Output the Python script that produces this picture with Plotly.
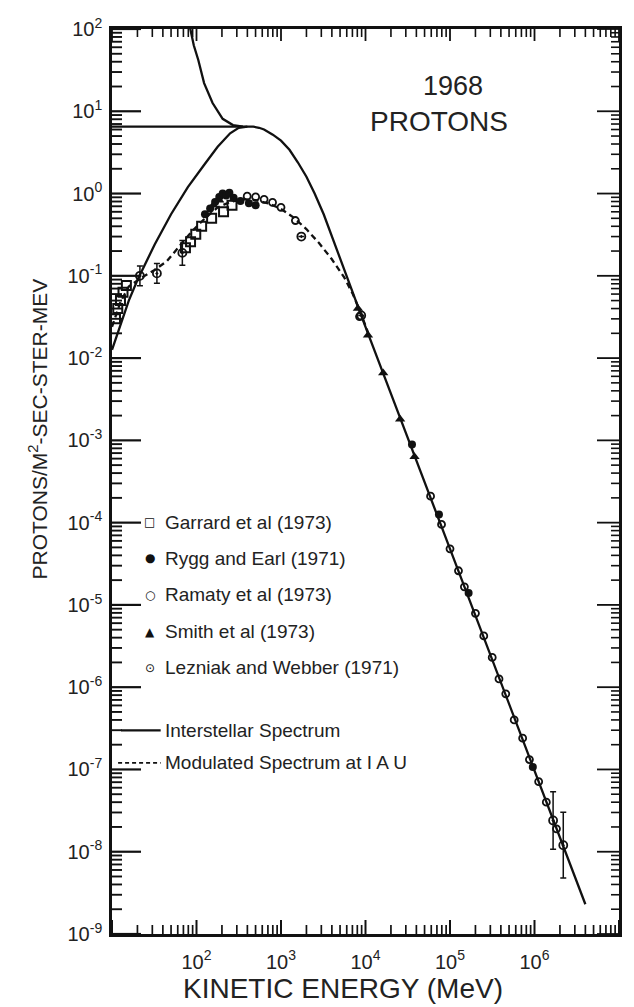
import numpy as np
import plotly.graph_objects as go

# ---------------- spectra (kinetic energy in MeV, flux in protons/m2-sec-ster-MeV) -------------
# interstellar spectrum, flat low-energy form continuing into the high-energy power law
is_main_E = [10, 200, 470, 550, 630, 800, 1000, 1260, 1580, 2000, 2500, 3200, 4000, 5000,
             6300, 7900, 1.0e4, 1.0e5, 1.0e6, 4.0e6]
is_main_J = [6.5, 6.5, 6.5, 6.3, 6.0, 5.2, 4.4, 3.4, 2.4, 1.6, 1.0, 0.56, 0.30, 0.16,
             0.083, 0.045, 0.024, 4.8e-5, 9.5e-8, 2.3e-9]
# interstellar spectrum, rising low-energy form
is_high_E = [80, 85, 93, 105, 123, 155, 178, 204, 270, 355]
is_high_J = [130, 100, 63, 42, 22, 12.6, 10.0, 8.1, 6.8, 6.5]
# interstellar spectrum, falling low-energy form
is_low_E = [10, 12.6, 15.8, 20, 32, 50, 79, 126, 178, 250, 316, 400]
is_low_J = [0.0126, 0.026, 0.05, 0.089, 0.24, 0.56, 1.2, 2.3, 3.7, 5.4, 6.3, 6.5]

# modulated spectrum at 1 AU
mod_E = [10, 12.6, 15.8, 22.4, 31.6, 44.7, 63, 89, 126, 178, 251, 355, 501, 708, 1000,
         1413, 1995, 2818, 3981, 5623, 7079, 8913, 11220]
mod_J = [0.024, 0.048, 0.074, 0.095, 0.117, 0.151, 0.23, 0.35, 0.50, 0.68, 0.79, 0.85,
         0.83, 0.76, 0.65, 0.51, 0.37, 0.25, 0.16, 0.095, 0.060, 0.034, 0.018]

# ---------------- measurements ----------------
garrard_E = [11, 11.7, 12.6, 13.5, 14.8, 74, 85, 98, 115, 151, 209, 263]
garrard_J = [0.030, 0.040, 0.050, 0.063, 0.076, 0.22, 0.26, 0.32, 0.40, 0.50, 0.60, 0.72]

rygg_E = [126, 145, 166, 186, 204, 224, 245, 275, 331, 417, 501,
          35500, 74000, 166000, 955000]
rygg_J = [0.56, 0.66, 0.79, 0.91, 1.0, 0.95, 1.02, 0.89, 0.81, 0.76, 0.72,
          8.9e-4, 1.26e-4, 1.4e-5, 1.07e-7]

ramaty_E = [398, 501, 631, 794, 1000, 1480, 8500, 58900, 79400, 1.0e5, 126000, 148000,
            200000, 251000, 316000, 380000, 457000, 575000, 724000, 871000, 1.12e6,
            1.38e6, 1.82e6]
ramaty_J = [0.93, 0.91, 0.85, 0.78, 0.68, 0.47, 0.032, 2.1e-4, 9.5e-5, 4.8e-5, 2.6e-5,
            1.66e-5, 7.9e-6, 4.2e-6, 2.3e-6, 1.26e-6, 8.3e-7, 4.0e-7, 2.4e-7, 1.32e-7,
            7.1e-8, 4.0e-8, 1.9e-8]

smith_E = [158, 186, 8130, 10700, 16200, 25700, 38000]
smith_J = [0.72, 0.83, 0.040, 0.019, 6.6e-3, 1.8e-3, 6.3e-4]

lezniak_E = [21.4, 34, 68, 1740, 8900, 1.66e6, 2.19e6]
lezniak_J = [0.10, 0.107, 0.19, 0.30, 0.033, 2.4e-8, 1.2e-8]
lezniak_err_dex = [0.12, 0.12, 0.15, 0.0, 0.0, 0.35, 0.40]

# ---------------- axis ticks ----------------
x_tick_vals = [1e2, 1e3, 1e4, 1e5, 1e6]
x_tick_text = ["10<sup>2</sup>", "10<sup>3</sup>", "10<sup>4</sup>", "10<sup>5</sup>",
               "10<sup>6</sup>"]
y_exponents = [2, 1, 0, -1, -2, -3, -4, -5, -6, -7, -8, -9]
y_tick_vals = [10.0 ** k for k in y_exponents]
y_tick_text = ["10<sup>%d</sup>" % k for k in y_exponents]

# tick marks on all four sides: decades plus 2..9 within every decade
x_major = [10.0 ** k for k in range(1, 8)]
y_major = y_tick_vals
x_minor = [m * 10.0 ** k for k in range(1, 7) for m in range(2, 10)]
y_minor = [m * 10.0 ** k for k in range(-9, 2) for m in range(2, 10)]

# key entries: symbol glyph + label
key_marker_labels = [("\u25a1", "Garrard et al (1973)"),
                     ("\u25cf", "Rygg and Earl (1971)"),
                     ("\u25cb", "Ramaty et al (1973)"),
                     ("\u25b2", "Smith et al (1973)"),
                     ("\u2299", "Lezniak and Webber (1971)")]
key_line_labels = ["Interstellar Spectrum", "Modulated Spectrum at I A U"]

FONT = "Liberation Sans, Arial, Helvetica, sans-serif"
INK = "#111111"
TXT = "#222222"
PLOT_W, PLOT_H = 634 - 112 - 15, 1007 - 29 - 73

fig = go.Figure()

line_solid = dict(color=INK, width=2.3)
line_dash = dict(color=INK, width=2.3, dash="6px,4px")

for E, J in [(is_main_E, is_main_J), (is_high_E, is_high_J), (is_low_E, is_low_J)]:
    fig.add_trace(go.Scatter(x=E, y=J, mode="lines", line=line_solid,
                             showlegend=False, hoverinfo="skip"))
fig.add_trace(go.Scatter(x=mod_E, y=mod_J, mode="lines", line=line_dash,
                         showlegend=False, hoverinfo="skip"))

lz_J = np.array(lezniak_J)
lz_d = np.array(lezniak_err_dex)
lz_plus = lz_J * (10 ** lz_d - 1)
lz_minus = lz_J * (1 - 10 ** (-lz_d))

marker_sets = [
    (garrard_E, garrard_J, dict(symbol="square-open", size=9, color=INK, line=dict(width=2.0, color=INK)), None),
    (rygg_E, rygg_J, dict(symbol="circle", size=8, color=INK), None),
    (ramaty_E, ramaty_J, dict(symbol="circle-open", size=7, color=INK, line=dict(width=1.8, color=INK)), None),
    (smith_E, smith_J, dict(symbol="triangle-up", size=9, color=INK), None),
    (lezniak_E, lezniak_J, dict(symbol="circle-open-dot", size=8, color=INK, line=dict(width=1.8, color=INK)),
     dict(type="data", array=lz_plus, arrayminus=lz_minus, color=INK, thickness=1.5, width=3)),
]
for E, J, mk, err in marker_sets:
    fig.add_trace(go.Scatter(x=E, y=J, mode="markers", marker=mk, error_y=err,
                             showlegend=False, hoverinfo="skip"))

# ---------------- tick marks (inside, all four sides) ----------------
shapes = []


def y_tick(v, side, length, width):
    frac = length / PLOT_W
    x0, x1 = (0, frac) if side == "left" else (1 - frac, 1)
    return dict(type="line", xref="x domain", yref="y", x0=x0, x1=x1, y0=v, y1=v,
                line=dict(color=INK, width=width), layer="above")


def x_tick(v, side, length, width):
    frac = length / PLOT_H
    y0, y1 = (0, frac) if side == "bottom" else (1 - frac, 1)
    return dict(type="line", xref="x", yref="y domain", x0=v, x1=v, y0=y0, y1=y1,
                line=dict(color=INK, width=width), layer="above")


for v in y_major:
    shapes.append(y_tick(v, "left", 29, 2.2))
    shapes.append(y_tick(v, "right", 22, 1.8))
for v in y_minor:
    shapes.append(y_tick(v, "left", 10, 1.9))
    shapes.append(y_tick(v, "right", 8, 1.6))
for v in x_major:
    shapes.append(x_tick(v, "bottom", 14, 2.0))
    shapes.append(x_tick(v, "top", 12, 1.8))
for v in x_minor:
    shapes.append(x_tick(v, "bottom", 9, 1.7))
    shapes.append(x_tick(v, "top", 8, 1.6))

# ---------------- key drawn inside the frame ----------------
key_rows_y = [0.455, 0.415, 0.375, 0.334, 0.294]
key_line_rows_y = [0.225, 0.189]
key_symbol_x = 0.074
key_text_x = 0.100

annotations = []
for (sym, lab), yy in zip(key_marker_labels, key_rows_y):
    annotations.append(dict(x=key_symbol_x, y=yy, xref="paper", yref="paper", text=sym,
                            showarrow=False, xanchor="center", yanchor="middle",
                            font=dict(family="DejaVu Sans", size=12, color=INK)))
    annotations.append(dict(x=key_text_x, y=yy, xref="paper", yref="paper", text=lab,
                            showarrow=False, xanchor="left", yanchor="middle",
                            font=dict(family=FONT, size=19, color=TXT)))
for lab, yy in zip(key_line_labels, key_line_rows_y):
    annotations.append(dict(x=key_text_x, y=yy, xref="paper", yref="paper", text=lab,
                            showarrow=False, xanchor="left", yanchor="middle",
                            font=dict(family=FONT, size=19, color=TXT)))

shapes += [
    dict(type="line", xref="paper", yref="paper", x0=0.018, x1=0.096,
         y0=key_line_rows_y[0], y1=key_line_rows_y[0], line=dict(color=INK, width=2.3)),
    dict(type="line", xref="paper", yref="paper", x0=0.012, x1=0.096,
         y0=key_line_rows_y[1], y1=key_line_rows_y[1],
         line=dict(color=INK, width=1.7, dash="4px,3px")),
]

annotations += [
    dict(x=0.672, y=0.937, xref="paper", yref="paper", text="1968", showarrow=False,
         xanchor="center", yanchor="middle", font=dict(family=FONT, size=27, color=TXT)),
    dict(x=0.645, y=0.898, xref="paper", yref="paper", text="PROTONS", showarrow=False,
         xanchor="center", yanchor="middle", font=dict(family=FONT, size=28, color=TXT)),
    dict(x=-0.145, y=0.558, xref="paper", yref="paper", text="PROTONS/M<sup>2</sup>-SEC-STER-MEV",
         textangle=-90, showarrow=False, xanchor="center", yanchor="middle",
         font=dict(family=FONT, size=21, color=TXT)),
    dict(x=0.456, y=-0.0605, xref="paper", yref="paper", text="KINETIC ENERGY (MeV)",
         showarrow=False, xanchor="center", yanchor="middle",
         font=dict(family=FONT, size=28, color=TXT)),
]

axis_common = dict(showgrid=False, zeroline=False, showline=True, linecolor=INK, linewidth=2.6,
                   mirror=True, ticks="", tickfont=dict(family=FONT, size=20, color=TXT))

fig.update_layout(
    width=634, height=1007,
    margin=dict(l=112, r=15, t=29, b=73),
    paper_bgcolor="white", plot_bgcolor="white",
    showlegend=False,
    xaxis=dict(type="log", range=[1, 7], tickmode="array", tickvals=x_tick_vals,
               ticktext=x_tick_text, ticklabelstandoff=8, **axis_common),
    yaxis=dict(type="log", range=[-9, 2], tickmode="array", tickvals=y_tick_vals,
               ticktext=y_tick_text, ticklabelstandoff=3, **axis_common),
    annotations=annotations,
    shapes=shapes,
)

fig.write_html("out.html")
